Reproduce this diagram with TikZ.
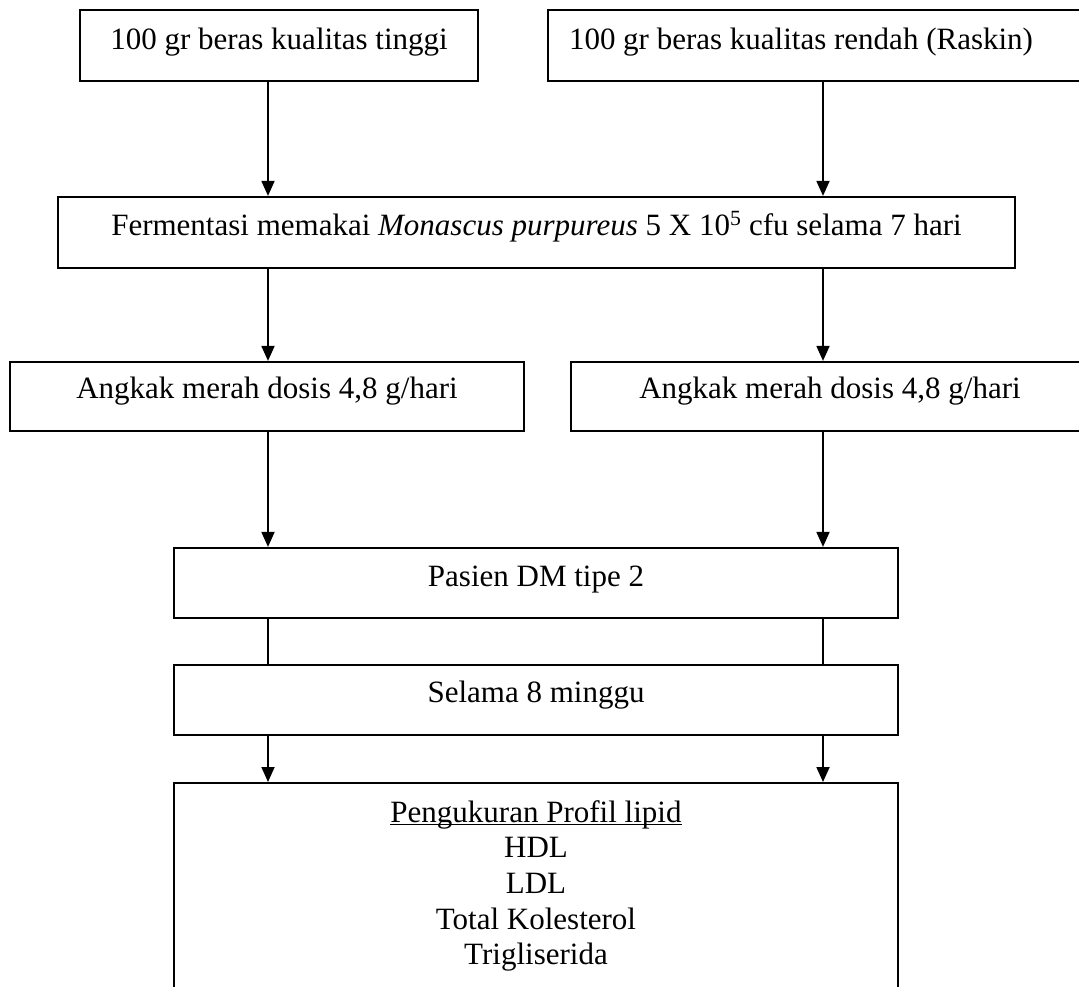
\documentclass[tikz,border=0pt]{standalone}
\usepackage{fontspec}
\setmainfont{Liberation Serif}
\usetikzlibrary{arrows.meta}
\newcommand\myul[1]{\setbox0\hbox{#1}\rlap{\rule[-3pt]{\wd0}{1.3pt}}\box0}
\begin{document}
\begin{tikzpicture}[x=1pt,y=-1pt,
  box/.style={draw, line width=2.2pt, rectangle, inner sep=0pt,
    font=\fontsize{31}{35.7}\selectfont, text height=21pt, text depth=14pt},
  arr/.style={line width=1.8pt, -{Triangle[length=15pt,width=13pt]}},
  ln/.style={line width=1.8pt}]
\useasboundingbox (0,0) rectangle (1079,986);
\clip (0,0) rectangle (1079,986);
\coordinate (L) at (268,0);
\coordinate (R) at (823,0);
\node[box, minimum width=398pt, minimum height=71pt] (b1) at (279,45.5) {100 gr beras kualitas tinggi};
\node[box, minimum width=544pt, minimum height=71pt] (b2) at (820,45.5) {\makebox[544pt][l]{\hspace*{21pt}100 gr beras kualitas rendah (Raskin)}};
\node[box, minimum width=957pt, minimum height=71pt, text depth=16pt] (b3) at (536.5,232.5) {Fermentasi memakai \textit{Monascus purpureus} 5 X 10\textsuperscript{5} cfu selama 7 hari};
\node[box, minimum width=514pt, minimum height=69pt, text depth=18pt] (b4) at (267,396.5) {Angkak merah dosis 4,8 g/hari};
\node[box, minimum width=518pt, minimum height=69pt, text depth=18pt] (b5) at (830,396.5) {Angkak merah dosis 4,8 g/hari};
\node[box, minimum width=724pt, minimum height=70pt, text depth=15pt] (b6) at (536,583) {Pasien DM tipe 2};
\node[box, minimum width=724pt, minimum height=70pt, text depth=17pt] (b7) at (536,700) {Selama 8 minggu};
\node[draw, line width=2.2pt, rectangle, inner sep=0pt, minimum width=724pt, minimum height=240pt, anchor=north] (b8) at (536,782) {};
\node[anchor=north, inner sep=0pt, align=center, font=\fontsize{31}{35.7}\selectfont] (b8t) at (536,800)
  {\myul{Pengukuran Profil lipid}\\HDL\\LDL\\Total Kolesterol\\Trigliserida};
\draw[arr] (b1.south -| L) -- (b3.north -| L);
\draw[arr] (b2.south -| R) -- (b3.north -| R);
\draw[arr] (b3.south -| L) -- (b4.north -| L);
\draw[arr] (b3.south -| R) -- (b5.north -| R);
\draw[arr] (b4.south -| L) -- (b6.north -| L);
\draw[arr] (b5.south -| R) -- (b6.north -| R);
\draw[ln] (b6.south -| L) -- (b7.north -| L);
\draw[ln] (b6.south -| R) -- (b7.north -| R);
\draw[arr] (b7.south -| L) -- (b8.north -| L);
\draw[arr] (b7.south -| R) -- (b8.north -| R);
\end{tikzpicture}
\end{document}
